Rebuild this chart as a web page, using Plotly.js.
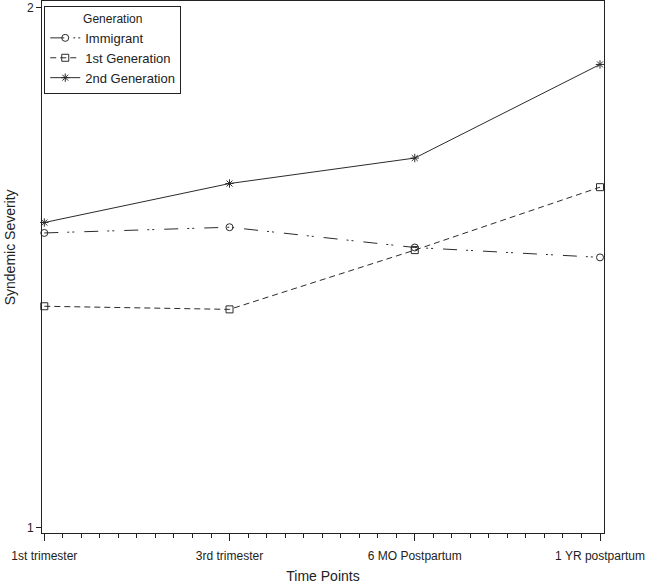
<!DOCTYPE html>
<html>
<head>
<meta charset="utf-8">
<script src="https://cdn.plot.ly/plotly-3.0.1.min.js"></script>
<style>
  html, body { margin: 0; padding: 0; background: #fff; }
  #chart { width: 653px; height: 584px; }
</style>
</head>
<body>
<div id="chart"></div>
<script>
// time points on the x axis
const timePoints = ['1st trimester', '3rd trimester', '6 MO Postpartum', '1 YR postpartum'];

// syndemic severity by generation
const immigrant = [1.567, 1.578, 1.539, 1.520];
const firstGen = [1.426, 1.420, 1.534, 1.655];
const secondGen = [1.587, 1.662, 1.711, 1.891];

const xPos = timePoints.map((t, i) => i + 1);
const ink = '#2b2b2b';

function series(name, y, symbol, dash) {
    return {
        x: xPos, y: y, name: name,
        type: 'scatter', mode: 'lines+markers',
        line: { color: ink, width: 1, dash: dash },
        marker: { symbol: symbol, size: 7, color: ink, line: { color: ink, width: 1 } },
        cliponaxis: false
    };
}

const data = [
    series('Immigrant', immigrant, 'circle-open', '14px,9px,2px,3px,2px,10px'),
    series('1st Generation', firstGen, 'square-open', '6px,4px'),
    series('2nd Generation', secondGen, 'asterisk-open', 'solid')
];

const layout = {
    width: 653, height: 584,
    margin: { l: 42, r: 49, t: 1, b: 51 },
    paper_bgcolor: '#fff', plot_bgcolor: '#fff',
    font: { family: 'Liberation Sans, Arial, sans-serif', size: 12, color: '#222' },
    showlegend: true,
    legend: {
        x: 0.004, y: 0.99, xanchor: 'left', yanchor: 'top',
        bordercolor: '#222', borderwidth: 1, bgcolor: '#fff',
        font: { size: 13, color: '#222' },
        title: { text: 'Generation', side: 'top center', font: { size: 12 } },
        tracegroupgap: 0
    },
    xaxis: {
        range: [0.9876, 4.0216],
        tickvals: xPos, ticktext: timePoints,
        ticks: 'outside', ticklen: 7, tickcolor: '#222',
        ticklabelstandoff: 5,
        minor: { dtick: 0.1, ticks: 'outside', ticklen: 4, tickcolor: '#222' },
        showgrid: false, zeroline: false,
        showline: true, linecolor: '#222', linewidth: 1, mirror: true,
        title: { text: 'Time Points', font: { size: 14 }, standoff: 14 }
    },
    yaxis: {
        range: [0.990, 2.013],
        tickvals: [1, 2],
        ticks: 'outside', ticklen: 5, tickcolor: '#222',
        showgrid: false, zeroline: false,
        showline: true, linecolor: '#222', linewidth: 1, mirror: true
    },
    annotations: [{
        text: 'Syndemic Severity', textangle: -90,
        xref: 'paper', yref: 'paper', x: 0, y: 0.537,
        xanchor: 'center', yanchor: 'middle', xshift: -32,
        showarrow: false, font: { size: 14, color: '#222' }
    }]
};

Plotly.newPlot('chart', data, layout, { displayModeBar: false });
</script>
</body>
</html>
